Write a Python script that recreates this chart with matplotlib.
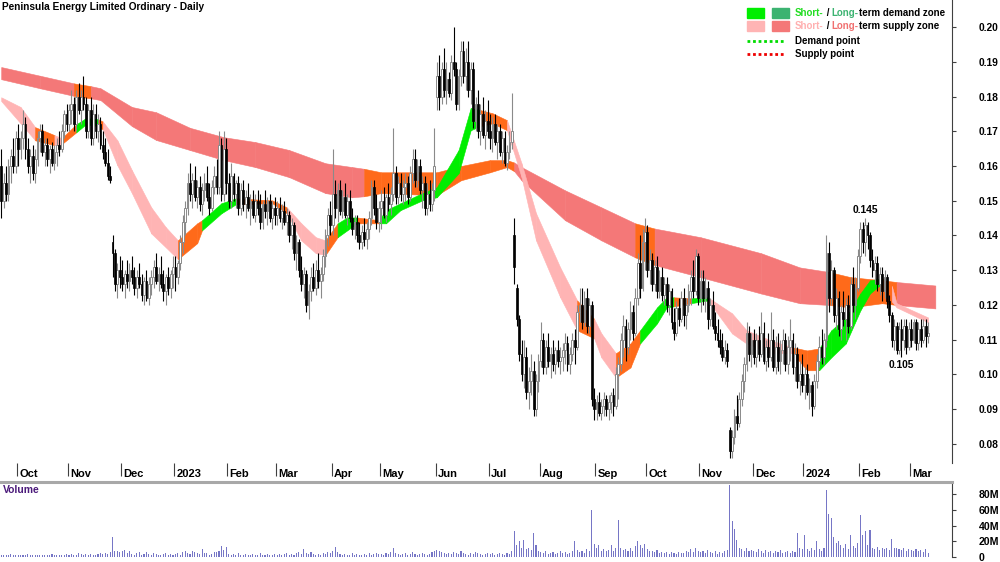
#! /usr/bin/env python3

import numpy as np
import pandas as pd
import matplotlib
matplotlib.use("Agg")
from matplotlib import pyplot as plt
from matplotlib.ticker import FuncFormatter

plt.rcParams['font.family'] = ['Liberation Sans', 'DejaVu Sans']
NARROW = ['Liberation Sans Narrow', 'Liberation Sans', 'DejaVu Sans']

title = "Peninsula Energy Limited Ordinary - Daily"
first_day = "2022-09-22"

# Daily candles, open/high/low/close in thousandths of a dollar, one string per month
sep22 = "160/165/145/150 150/158/148/155 155/160/150/152 152/162/150/160 160/165/155/163 163/168/158/160 160/170/158/168"
oct22 = ("168/172/160/165 165/170/162/168 168/176/165/172 172/174/162/165 165/168/158/160 160/165/155/163 163/166/156/158 "
         "158/165/155/162 162/170/160/168 168/172/164/170 170/172/163/164 164/168/160/166 166/168/160/162 162/166/158/165 "
         "165/167/160/161 161/166/159/164 164/168/160/166 166/170/163/165 165/172/164/170 170/176/168/175 175/178/170/172")
nov22 = ("172/178/170/176 176/182/172/178 178/180/170/172 172/182/170/180 180/184/175/176 176/182/172/180 180/186/176/178 "
         "178/180/168/170 170/178/168/176 176/180/166/168 168/178/166/175 175/178/168/170 170/175/167/172 172/174/165/166 "
         "166/170/162/164 164/168/160/161 161/165/156/157 157/160/155/156 138/140/128/135 135/136/124/126 126/132/122/130 "
         "130/134/125/128")
dec22 = ("128/133/124/126 126/130/122/129 129/133/125/127 127/132/124/130 130/134/126/128 128/131/123/125 125/130/122/128 "
         "128/132/125/126 126/129/121/123 123/128/120/127 127/130/121/122 122/128/120/126 126/130/123/128 128/133/125/131 "
         "131/135/126/127 127/131/124/129 129/134/125/126 126/130/121/124 124/129/120/128 128/131/123/125 125/130/122/129 "
         "129/134/125/131")
jan23 = ("131/134/124/128 128/133/126/132 132/140/130/138 138/146/135/144 144/150/140/148 148/158/146/155 155/161/150/152 "
         "152/158/148/156 156/160/150/151 151/156/148/154 154/157/147/149 149/155/146/153 153/158/150/155 155/160/150/151 "
         "151/155/146/148 148/156/147/154 154/160/152/157 157/162/152/154 154/170/152/166 166/168/150/152 152/170/150/165 "
         "165/168/152/155")
feb23 = ("155/158/148/150 150/161/148/157 157/158/150/152 152/156/148/155 155/157/146/148 148/155/146/153 153/156/147/149 "
         "149/153/145/151 151/155/147/148 148/152/143/150 150/153/145/146 146/152/144/150 150/153/146/148 148/152/142/144 "
         "144/150/142/149 149/153/145/147 147/151/143/150 150/152/144/145 145/150/142/148 148/151/143/146")
mar23 = ("146/150/143/148 148/151/144/145 145/149/142/147 147/150/143/144 144/148/140/146 146/147/138/140 140/145/136/143 "
         "143/144/133/135 135/140/130/138 138/139/128/130 130/134/124/126 126/131/122/129 129/130/118/120 120/126/116/124 "
         "124/131/121/128 128/132/124/125 125/133/123/130 130/135/125/127 127/131/122/129 129/136/127/134 134/142/131/140 "
         "140/148/137/146 146/150/140/143")
apr23 = ("143/165/140/152 152/156/145/148 148/155/144/153 153/156/146/147 147/153/145/151 151/155/145/146 146/152/143/150 "
         "150/153/144/145 145/148/140/142 142/146/139/144 144/146/138/140 140/144/136/138 138/143/136/141 141/145/137/139 "
         "139/144/136/142 142/147/139/145 145/156/143/154 154/156/146/148 148/152/142/144 144/150/141/148")
may23 = ("148/153/142/150 150/154/145/146 146/152/144/151 151/155/147/149 149/154/146/152 152/171/150/158 158/160/149/151 "
         "151/157/149/155 155/158/150/152 152/156/149/154 154/158/150/155 155/157/149/151 151/160/150/158 158/165/155/162 "
         "162/165/154/156 156/162/154/160 160/162/152/153 153/157/148/155 155/157/146/148 148/155/146/152 152/156/147/149 "
         "149/155/147/153 153/171/150/160")
jun23 = ("180/190/176/186 186/192/176/180 180/190/178/188 188/194/180/182 182/190/178/185 185/187/180/181 181/192/179/190 "
         "190/200/186/188 188/190/176/178 178/188/176/186 186/196/183/193 193/196/184/186 186/194/182/190 190/196/180/182 "
         "182/190/178/188 188/190/171/173 173/180/170/178 178/182/168/170 170/178/166/175 175/180/168/169 169/176/165/173 "
         "173/179/168/170")
jul23 = ("170/175/165/168 168/174/164/172 172/175/166/167 167/172/162/170 170/172/163/164 164/170/161/168 168/170/160/161 "
         "161/166/159/164 164/170/162/167 167/181/165/170 140/145/126/131 125/126/114/116 116/117/104/106 106/110/098/100 "
         "100/110/096/105 105/108/093/095 095/102/090/098 098/106/094/101 101/104/088/090 090/100/088/098 098/106/095/104")
aug23 = ("104/115/102/110 110/112/100/102 102/110/100/108 108/112/102/104 104/108/099/106 106/110/101/103 103/108/100/107 "
         "107/110/102/104 104/108/100/105 105/109/101/107 107/112/103/109 109/111/101/103 103/108/100/106 106/112/104/110 "
         "110/113/103/108 108/120/107/118 118/125/115/120 120/125/113/115 115/124/114/122 122/125/112/114 114/122/112/120 "
         "120/121/091/093 093/096/087/090")
sep23 = ("090/094/087/092 092/095/088/089 089/093/087/091 091/095/088/093 093/094/088/090 090/094/087/092 092/095/089/094 "
         "094/096/088/091 091/102/090/100 100/105/093/103 103/112/101/110 110/117/105/114 114/116/104/108 108/115/106/113 "
         "113/121/110/118 118/120/110/112 112/125/111/122 122/135/120/132 132/140/122/125 125/142/124/138 138/145/130/141")
oct23 = ("141/143/128/130 130/136/126/133 133/135/124/126 126/133/124/131 131/134/122/124 124/130/122/128 128/131/121/123 "
         "123/128/120/126 126/128/118/120 120/126/117/124 124/125/113/115 115/119/110/112 112/121/111/119 119/122/114/116 "
         "116/124/115/122 122/125/114/117 117/122/113/120 120/126/118/124 124/130/120/128 128/133/122/124 124/136/123/134 "
         "134/135/120/122")
nov23 = ("122/130/118/127 127/130/120/122 122/128/118/125 125/127/113/116 116/122/114/120 120/124/113/114 114/118/110/112 "
         "112/116/108/110 110/113/106/108 108/112/104/105 105/110/103/107 107/109/102/104 084/085/076/078 078/084/076/082 "
         "082/090/080/088 088/094/084/086 086/095/085/093 093/100/091/098 098/105/095/103 103/115/101/112 112/114/104/106 "
         "106/112/102/110")
dec23 = ("110/113/103/105 105/112/102/110 110/114/104/106 106/118/105/112 112/115/103/104 104/110/101/108 108/112/102/105 "
         "105/118/104/110 110/113/101/102 102/111/100/108 108/112/101/104 104/110/100/107 107/113/103/110 110/112/101/103 "
         "103/111/100/108 108/116/104/110 110/112/100/102 102/109/098/106 106/108/096/098 098/104/094/100 100/106/095/097")
jan24 = ("097/102/093/100 100/103/094/095 095/099/090/097 097/098/088/091 091/100/090/098 098/106/096/104 104/111/102/108 "
         "108/113/103/105 105/112/103/110 110/140/108/135 135/138/118/122 122/133/120/130 130/131/115/117 117/125/113/122 "
         "122/124/111/113 113/120/110/118 118/124/114/116 116/122/110/120 120/123/112/114 114/128/113/126 126/131/118/120 "
         "120/128/116/125 125/136/124/134")
feb24 = ("134/144/132/142 142/144/135/138 138/145/134/143 143/144/136/140 140/141/131/133 133/136/128/130 130/134/126/132 "
         "132/134/124/126 126/131/123/129 129/131/121/124 124/130/122/128 128/129/119/121 121/123/115/117 117/118/108/110 "
         "110/116/107/114 114/115/106/107 107/115/106/113 113/116/105/110 110/116/107/114 114/116/106/108 108/115/107/113")
mar24 = "113/116/108/110 110/116/109/115 115/116/107/109 109/115/107/113 113/116/108/110 110/116/109/114 114/116/108/111 111/115/109/112"

months = [sep22, oct22, nov22, dec22, jan23, feb23, mar23, apr23, may23, jun23,
          jul23, aug23, sep23, oct23, nov23, dec23, jan24, feb24, mar24]

# Daily volume, millions of shares
vol_sep22 = [3, 2, 3, 2, 4, 3, 2]
vol_oct22 = [3, 2, 2, 3, 4, 2, 3, 2, 2, 3, 2, 3, 2, 2, 4, 3, 2, 3, 2, 3, 4]
vol_nov22 = [3, 4, 3, 3, 5, 4, 3, 4, 3, 4, 3, 3, 4, 5, 4, 5, 4, 6, 25, 7, 8, 6]
vol_dec22 = [8, 9, 5, 7, 4, 3, 5, 6, 3, 4, 6, 4, 3, 5, 4, 3, 3, 4, 5, 3, 4, 3]
vol_jan23 = [4, 5, 3, 6, 8, 5, 4, 7, 6, 5, 4, 10, 5, 5, 3, 4, 6, 6, 7, 14, 9, 13]
vol_feb23 = [4, 3, 4, 3, 5, 3, 3, 4, 3, 3, 4, 3, 3, 5, 3, 3, 4, 3, 3, 4]
vol_mar23 = [3, 4, 3, 4, 5, 3, 4, 3, 5, 6, 4, 10, 5, 4, 6, 4, 3, 4, 3, 5, 4, 6, 5]
vol_apr23 = [7, 13, 6, 4, 3, 4, 3, 3, 5, 3, 4, 3, 3, 4, 3, 5, 3, 4, 5, 4]
vol_may23 = [4, 3, 5, 4, 6, 11, 5, 4, 3, 4, 5, 3, 4, 6, 4, 3, 4, 5, 4, 3, 4, 6, 8]
vol_jun23 = [9, 8, 6, 5, 4, 5, 4, 6, 5, 4, 8, 5, 4, 3, 5, 4, 6, 5, 4, 3, 4, 5]
vol_jul23 = [4, 5, 3, 4, 5, 4, 3, 5, 4, 8, 33, 15, 20, 12, 22, 10, 12, 9, 30, 15, 8]
vol_aug23 = [6, 5, 7, 4, 5, 6, 4, 5, 7, 5, 6, 4, 5, 8, 20, 9, 6, 8, 5, 10, 7, 60, 17]
vol_sep23 = [12, 15, 8, 10, 7, 9, 15, 8, 12, 47, 12, 9, 10, 7, 12, 8, 14, 20, 15, 12, 16]
vol_oct23 = [10, 8, 7, 6, 9, 5, 6, 5, 6, 4, 6, 5, 4, 6, 5, 5, 7, 6, 10, 6, 12, 8]
vol_nov23 = [6, 7, 5, 9, 6, 5, 7, 4, 6, 5, 8, 9, 92, 46, 36, 22, 12, 10, 8, 12, 7, 9]
vol_dec23 = [8, 6, 10, 7, 5, 9, 6, 8, 5, 7, 6, 9, 5, 6, 8, 5, 7, 6, 30, 12, 10]
vol_jan24 = [28, 10, 8, 12, 9, 20, 10, 8, 12, 85, 55, 50, 25, 18, 20, 15, 12, 17, 10, 28, 14, 12, 18]
vol_feb24 = [53, 28, 33, 15, 34, 12, 10, 13, 9, 11, 10, 12, 9, 23, 11, 12, 10, 9, 11, 8, 10]
vol_mar24 = [9, 7, 10, 8, 9, 6, 10, 5]

volumes = [vol_sep22, vol_oct22, vol_nov22, vol_dec22, vol_jan23, vol_feb23, vol_mar23,
           vol_apr23, vol_may23, vol_jun23, vol_jul23, vol_aug23, vol_sep23, vol_oct23,
           vol_nov23, vol_dec23, vol_jan24, vol_feb24, vol_mar24]

# Zone bands read at some bar indices: upper / lower edge (thousandths),
# colour key of the stretch that follows each sample
long_idx = [0, 16, 30, 37, 41, 54, 64, 78, 92, 105, 119, 134, 145, 150, 157, 180, 190, 202, 209,
            212, 215, 233, 248, 262, 270, 289, 314, 330, 342, 351, 364, 370, 386]
long_hi = [188.5, 186.0, 183.8, 183.0, 182.4, 177.0, 175.5, 171.0, 168.3, 166.9, 164.6, 160.8, 159.7,
           159.2, 158.2, 158.2, 160.0, 161.7, 161.7, 161.0, 159.7, 153.0, 148.1, 143.5, 142.0, 139.5,
           134.9, 130.8, 129.5, 128.0, 127.1, 126.6, 125.6]
long_lo = [185.0, 182.4, 180.2, 179.5, 179.0, 171.5, 167.5, 164.6, 161.7, 159.7, 156.8, 152.2, 151.0,
           151.3, 152.2, 151.6, 155.9, 158.2, 159.7, 158.5, 155.9, 144.4, 138.6, 133.7, 131.5, 128.0,
           123.3, 120.5, 120.0, 119.3, 120.5, 120.0, 119.0]
long_col = "rrorrrrrrr" "rrroooooor" "rrrorrrroo" "orr"

short_idx = [0, 8, 14, 22, 25, 31, 35, 40, 42, 48, 54, 62, 68, 73, 81, 83, 91, 97, 112, 118, 124,
             130, 134, 139, 143, 147, 156, 159, 165, 174, 180, 189, 194, 198, 203, 209, 215, 221,
             231, 238, 245, 248, 254, 260, 264, 271, 275, 278, 285, 292, 302, 308, 318, 327, 333,
             338, 343, 349, 355, 359, 364, 368, 370, 383]
short_hi = [179.8, 177.0, 171.2, 168.9, 168.0, 172.0, 173.8, 173.5, 172.8, 167.4, 158.8, 148.1, 142.4,
            138.6, 143.5, 144.4, 149.3, 150.7, 150.1, 148.1, 143.5, 139.5, 138.6, 143.5, 145.2, 145.2,
            144.4, 147.3, 149.3, 152.2, 153.9, 164.6, 176.7, 176.1, 175.2, 173.2, 160.8, 146.4, 130.8,
            121.3, 116.0, 111.8, 106.1, 108.9, 112.7, 119.3, 122.2, 122.2, 121.9, 122.2, 117.6, 112.7,
            109.8, 107.8, 106.9, 107.5, 112.7, 116.4, 123.3, 127.1, 127.7, 125.5, 120.5, 116.4]
short_lo = [178.7, 172.3, 167.4, 166.0, 166.3, 169.7, 172.0, 171.5, 170.5, 160.2, 152.2, 140.6, 136.6,
            133.2, 137.8, 141.5, 146.4, 149.0, 149.3, 146.4, 138.6, 134.9, 134.4, 139.5, 141.5, 143.5,
            143.5, 143.5, 147.3, 150.1, 151.0, 157.9, 170.3, 171.5, 172.3, 170.3, 156.8, 138.6, 122.2,
            112.7, 110.4, 104.9, 99.1, 102.0, 108.9, 114.7, 119.3, 119.6, 120.5, 121.3, 111.8, 108.9,
            106.1, 106.1, 101.2, 101.2, 104.9, 108.9, 118.4, 123.3, 126.2, 121.0, 119.3, 115.0]
short_col = "ppopoggopp" "pppooggoop" "ppoggogggg" "gggooppppo" "ppoogggogp" "pppooggggg" "oppp"

zone_colors = {'r': '#F47878', 'p': '#FFB4B4', 'o': '#FF6A1A', 'g': '#00EE00'}

#============================================================
ohlc = np.array([[int(v) for v in b.split("/")] for m in months for b in m.split()]) / 1000.0
o, h, l, c = ohlc.T
n = len(c)
x = np.arange(n)
dates = pd.bdate_range(first_day, periods=n)
volume = np.array(sum(volumes, []), dtype=float)

W, H = 1000, 562
def fx(px): return px / W
def fy(py): return 1 - py / H

fig = plt.figure(figsize=(10, 5.62), dpi=100)
ax = fig.add_axes([0, fy(463), fx(952), 463 / H])
axv = fig.add_axes([0, fy(557), fx(952), (557 - 484) / H])

# zones
def draw_band(idx, hi, lo, col, z):
    hi = np.array(hi) / 1000.0
    lo = np.array(lo) / 1000.0
    for k in range(len(idx) - 1):
        cc = zone_colors[col[k]]
        ax.fill_between(idx[k:k + 2], lo[k:k + 2], hi[k:k + 2], facecolor=cc,
                        edgecolor=cc, linewidth=0.4, zorder=z)

draw_band(long_idx, long_hi, long_lo, long_col, 1)
draw_band(short_idx, short_hi, short_lo, short_col, 2)

# candles
up = c >= o
body_lo = np.minimum(o, c)
body_h = np.maximum(np.abs(c - o), 0.0007)
ax.vlines(x[up], l[up], h[up], color='#8A8A8A', lw=0.8, zorder=3)
ax.vlines(x[~up], l[~up], h[~up], color='black', lw=0.8, zorder=3)
ax.bar(x[up], body_h[up], 0.75, body_lo[up], facecolor='white', edgecolor='#8A8A8A', lw=0.7, zorder=4)
ax.bar(x[~up], body_h[~up], 0.75, body_lo[~up], facecolor='black', edgecolor='black', lw=0.5, zorder=4)

x_max = -0.5 + 952 / 2.42
ax.set_xlim(-0.5, x_max)
ax.set_ylim(0.0745, 0.2078)

for s in ['top', 'left', 'bottom']:
    ax.spines[s].set_visible(False)
ax.spines['right'].set_color('#404040')
ax.spines['right'].set_linewidth(0.8)
ax.yaxis.tick_right()
ax.set_yticks(np.arange(0.08, 0.2001, 0.01))
ax.yaxis.set_major_formatter(FuncFormatter(lambda v, p: "%.2f" % v))
ax.tick_params(axis='y', length=3, width=0.8, color='#404040', pad=16, labelsize=7.4)
for t in ax.get_yticklabels():
    t.set_fontweight('bold')

# month ticks and labels
month_start = [i for i in range(1, n) if dates[i].month != dates[i - 1].month]
ax.set_xticks([i - 0.5 for i in month_start])
ax.set_xticklabels([])
ax.tick_params(axis='x', length=9, width=0.8, color='#404040', direction='out')
for i in month_start:
    lab = dates[i].strftime('%Y') if dates[i].month == 1 else dates[i].strftime('%b')
    ax.text(i + 0.4, -0.012, lab, transform=ax.get_xaxis_transform(), ha='left', va='top',
            fontsize=8, fontweight='bold', family=NARROW)

# high / low labels
i_hi = 355 + int(np.argmax(h[355:]))
i_lo = 366 + int(np.argmin(l[366:]))
ax.annotate("%.3f" % h[i_hi], (i_hi, h[i_hi]), xytext=(0, 2), textcoords='offset points',
            ha='center', va='bottom', fontsize=7.4, fontweight='bold')
ax.annotate("%.3f" % l[i_lo], (i_lo, l[i_lo]), xytext=(0, -2), textcoords='offset points',
            ha='center', va='top', fontsize=7.4, fontweight='bold')

# volume
axv.bar(x, volume, 0.45, color='#7676C6', zorder=2)
axv.set_xlim(-0.5, x_max)
axv.set_ylim(0, 92.7)
for s in ['top', 'left', 'bottom']:
    axv.spines[s].set_visible(False)
axv.spines['right'].set_color('#404040')
axv.spines['right'].set_linewidth(0.8)
axv.yaxis.tick_right()
axv.set_yticks([0, 20, 40, 60, 80])
axv.yaxis.set_major_formatter(FuncFormatter(lambda v, p: "0" if v == 0 else "%dM" % v))
axv.tick_params(axis='y', length=3, width=0.8, color='#404040', pad=16, labelsize=7.6)
for t in axv.get_yticklabels():
    t.set_fontweight('bold')
    t.set_family(NARROW)
axv.set_xticks([])
fig.text(fx(3), fy(490), "Volume", color='#4B1A7A', fontsize=7.5, fontweight='bold', va='center')

# separator between panels
fig.add_artist(plt.Line2D([0, fx(952)], [fy(482), fy(482)], color='#A8A8A8', lw=2.2))

# title
fig.text(fx(2), fy(7), title, fontsize=7.3, fontweight='bold', va='center')

# legend
r = fig.canvas.get_renderer()
def color_text(px, py, parts):
    xf = fx(px)
    for s, col in parts:
        t = fig.text(xf, fy(py), s, color=col, fontsize=7, fontweight='bold', va='center')
        xf += t.get_window_extent(renderer=r).width / fig.bbox.width

def patch(px, py, col):
    fig.add_artist(plt.Rectangle((fx(px), fy(py + 5)), fx(17), 10 / H, color=col))

patch(747, 13, '#00EE00')
patch(772, 13, '#3CB371')
color_text(795, 13, [("Short-", '#22DD22'), (" / ", 'black'), ("Long-", '#3CB371'),
                     ("term demand zone", 'black')])
patch(747, 26, '#FFB4B4')
patch(772, 26, '#F47878')
color_text(795, 26, [("Short-", '#FFB0B0'), (" / ", 'black'), ("Long-", '#F07070'),
                     ("term supply zone", 'black')])
fig.add_artist(plt.Line2D([fx(747), fx(785)], [fy(41), fy(41)], color='#00DD00', lw=2, ls=(0, (1, 1))))
fig.text(fx(795), fy(41), "Demand point", fontsize=7, fontweight='bold', va='center')
fig.add_artist(plt.Line2D([fx(747), fx(785)], [fy(54), fy(54)], color='#EE0000', lw=2, ls=(0, (1, 1))))
fig.text(fx(795), fy(54), "Supply point", fontsize=7, fontweight='bold', va='center')

plt.savefig("out.png", dpi=100)
